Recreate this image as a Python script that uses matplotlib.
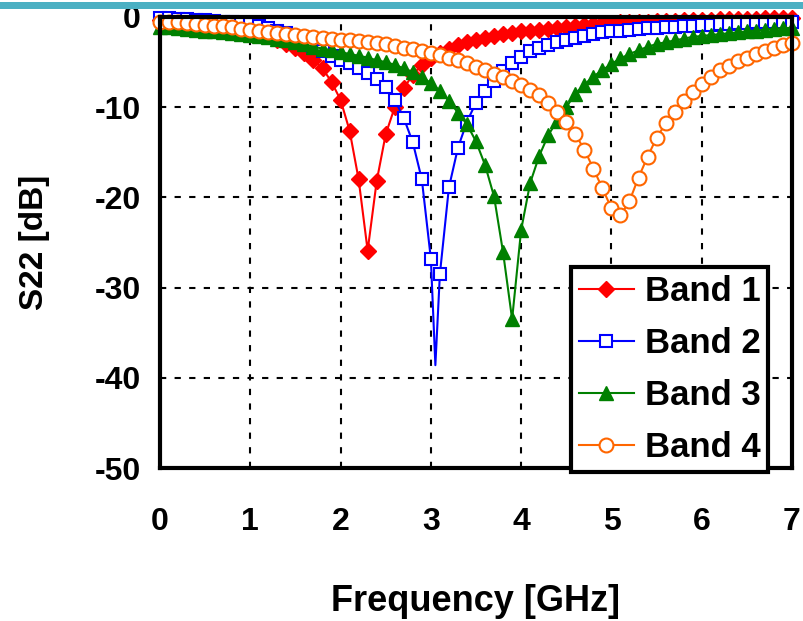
import numpy as np
import matplotlib.pyplot as plt
from matplotlib.patches import Rectangle

plt.rcParams['font.family'] = ['Liberation Sans', 'DejaVu Sans']
plt.rcParams['font.weight'] = 'bold'
plt.rcParams['axes.unicode_minus'] = False

# frequency grid, 0.1 GHz steps
freq = np.round(np.arange(0, 7.01, 0.1), 1)

band1 = [-0.3, -0.3, -0.4, -0.5, -0.6, -0.7, -0.8, -1.0, -1.1, -1.3,
         -1.5, -1.8, -2.1, -2.5, -3.0, -3.4, -4.0, -4.8, -5.7, -7.2,
         -9.2, -12.6, -18.0, -25.9, -18.2, -13.0, -10.0, -7.9, -6.4, -5.3,
         -4.6, -4.0, -3.5, -3.1, -2.8, -2.5, -2.3, -2.1, -1.9, -1.8,
         -1.6, -1.5, -1.4, -1.3, -1.2, -1.1, -1.0, -0.9, -0.8, -0.7,
         -0.7, -0.6, -0.6, -0.5, -0.5, -0.4, -0.4, -0.4, -0.3, -0.3,
         -0.3, -0.3, -0.2, -0.2, -0.2, -0.2, -0.2, -0.1, -0.1, -0.1,
         -0.1]

band2 = [-0.1, -0.1, -0.2, -0.2, -0.3, -0.3, -0.4, -0.5, -0.6, -0.7,
         -0.8, -1.0, -1.2, -1.5, -1.8, -2.2, -2.7, -3.2, -3.8, -4.3,
         -4.8, -5.1, -5.7, -6.2, -6.9, -7.8, -9.2, -11.2, -13.9, -18.0,
         -26.8, -28.5, -18.9, -14.5, -11.6, -9.5, -8.2, -7.1, -6.0, -5.1,
         -4.4, -3.8, -3.4, -3.1, -2.8, -2.5, -2.3, -2.1, -1.9, -1.7,
         -1.6, -1.5, -1.4, -1.3, -1.25, -1.2, -1.1, -1.1, -1.05, -1.0,
         -0.9, -0.85, -0.8, -0.75, -0.7, -0.65, -0.6, -0.55, -0.5, -0.5,
         -0.5]
# sharp notch of band 2 (line only, no marker there)
band2_tip_f = 3.05
band2_tip = -38.6

band3 = [-1.1, -1.1, -1.2, -1.3, -1.4, -1.5, -1.6, -1.7, -1.8, -1.9,
         -2.0, -2.1, -2.2, -2.4, -2.6, -2.8, -3.0, -3.3, -3.5, -3.7,
         -3.9, -4.1, -4.3, -4.5, -4.8, -5.0, -5.3, -5.7, -6.1, -6.7,
         -7.3, -8.2, -9.3, -10.6, -11.9, -13.8, -16.4, -19.9, -26.1, -33.5,
         -23.6, -18.4, -15.4, -13.1, -11.5, -10.0, -8.5, -7.5, -6.6, -5.9,
         -5.2, -4.6, -4.1, -3.7, -3.3, -3.0, -2.8, -2.6, -2.4, -2.2,
         -2.1, -2.0, -1.9, -1.8, -1.7, -1.6, -1.5, -1.4, -1.3, -1.25,
         -1.2]

band4 = [-0.5, -0.6, -0.6, -0.7, -0.8, -0.9, -1.0, -1.05, -1.15, -1.3,
         -1.4, -1.6, -1.7, -1.8, -1.9, -2.0, -2.1, -2.2, -2.3, -2.4,
         -2.5, -2.6, -2.7, -2.8, -2.9, -3.0, -3.2, -3.4, -3.6, -3.8,
         -4.0, -4.2, -4.6, -4.8, -5.1, -5.5, -5.9, -6.3, -6.7, -7.1,
         -7.5, -8.1, -8.7, -9.5, -10.5, -11.6, -13.0, -14.7, -16.8, -19.0,
         -21.2, -22.0, -20.4, -17.8, -15.5, -13.4, -11.8, -10.5, -9.3, -8.3,
         -7.4, -6.6, -5.9, -5.4, -4.9, -4.5, -4.1, -3.8, -3.4, -3.1,
         -2.9]

labels = ['Band 1', 'Band 2', 'Band 3', 'Band 4']

fig = plt.figure(figsize=(8.04, 6.21), dpi=100)

# teal header strip of the slide
fig.add_artist(Rectangle((0, 1 - 9/621), 1, 7/621, transform=fig.transFigure,
                         facecolor='#4BB0C3', edgecolor='none'))

ax = fig.add_axes([160/804, 1 - 468/621, 632/804, 451/621])

ax.plot(freq, band1, color='red', lw=1.5, marker='D', ms=8, mfc='red',
        mec='red', label=labels[0], clip_on=False)

i_tip = int(np.searchsorted(freq, band2_tip_f))
f2 = np.insert(freq, i_tip, band2_tip_f)
s2 = np.insert(np.array(band2), i_tip, band2_tip)
mk2 = [i for i in range(len(f2)) if i != i_tip]
ax.plot(f2, s2, color='blue', lw=1.5, marker='s', ms=9, mfc='white',
        mec='blue', mew=1.5, markevery=mk2, label=labels[1], clip_on=False)

ax.plot(freq, band3, color='green', lw=1.5, marker='^', ms=10, mfc='green',
        mec='green', label=labels[2], clip_on=False)
ax.plot(freq, band4, color='#FF6600', lw=1.5, marker='o', ms=10, mfc='white',
        mec='#FF6600', mew=1.5, label=labels[3], clip_on=False)

ax.set_xlim(0, 7)
ax.set_ylim(-50, 0)
ax.set_xticks(range(0, 8))
ax.set_yticks(range(-50, 1, 10))
ax.grid(True, color='black', lw=1.5, linestyle=(0, (3, 4)))
ax.set_axisbelow(True)
for sp in ax.spines.values():
    sp.set_linewidth(3)
ax.tick_params(length=0, labelsize=23)
ax.tick_params(axis='x', pad=28)
ax.tick_params(axis='y', pad=14)
for t in ax.get_xticklabels() + ax.get_yticklabels():
    t.set_fontweight('bold')

ax.set_xlabel('Frequency [GHz]', fontsize=26, fontweight='bold', labelpad=34)
ax.set_ylabel('S22 [dB]', fontsize=24, fontweight='bold', labelpad=32)

leg = ax.legend(loc='lower right', bbox_to_anchor=(0.962, -0.009),
                borderaxespad=0, fancybox=False, framealpha=1,
                edgecolor='black', prop={'size': 25, 'weight': 'bold'},
                handlelength=1.6, handletextpad=0.3, labelspacing=0.55,
                borderpad=0.22, numpoints=1)
leg.get_frame().set_linewidth(3)

fig.savefig('out.png', dpi=100)
